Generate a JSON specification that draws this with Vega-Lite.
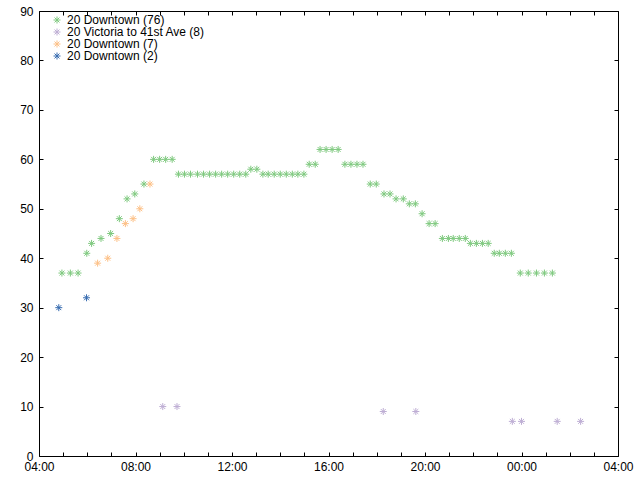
{
  "$schema": "https://vega.github.io/schema/vega-lite/v6.json",
  "width": 579,
  "height": 445,
  "autosize": "none",
  "padding": {"left": 39, "top": 11, "right": 22, "bottom": 24},
  "background": "white",
  "config": {
    "font": "Liberation Sans",
    "view": {"stroke": "black", "strokeWidth": 1},
    "axis": {"grid": false, "domain": false, "labelFontSize": 12, "labelColor": "black", "tickColor": "black", "labelFont": "Liberation Sans", "tickWidth": 1}
  },
  "data": {"values": [
    {"h": 4.95, "v": 37, "s": "20 Downtown (76)"},
    {"h": 5.3, "v": 37, "s": "20 Downtown (76)"},
    {"h": 5.62, "v": 37, "s": "20 Downtown (76)"},
    {"h": 5.98, "v": 41, "s": "20 Downtown (76)"},
    {"h": 6.18, "v": 43, "s": "20 Downtown (76)"},
    {"h": 6.57, "v": 44, "s": "20 Downtown (76)"},
    {"h": 6.97, "v": 45, "s": "20 Downtown (76)"},
    {"h": 7.33, "v": 48, "s": "20 Downtown (76)"},
    {"h": 7.65, "v": 52, "s": "20 Downtown (76)"},
    {"h": 7.97, "v": 53, "s": "20 Downtown (76)"},
    {"h": 8.35, "v": 55, "s": "20 Downtown (76)"},
    {"h": 8.75, "v": 60, "s": "20 Downtown (76)"},
    {"h": 9.0, "v": 60, "s": "20 Downtown (76)"},
    {"h": 9.25, "v": 60, "s": "20 Downtown (76)"},
    {"h": 9.52, "v": 60, "s": "20 Downtown (76)"},
    {"h": 9.78, "v": 57, "s": "20 Downtown (76)"},
    {"h": 10.03, "v": 57, "s": "20 Downtown (76)"},
    {"h": 10.28, "v": 57, "s": "20 Downtown (76)"},
    {"h": 10.57, "v": 57, "s": "20 Downtown (76)"},
    {"h": 10.82, "v": 57, "s": "20 Downtown (76)"},
    {"h": 11.07, "v": 57, "s": "20 Downtown (76)"},
    {"h": 11.32, "v": 57, "s": "20 Downtown (76)"},
    {"h": 11.57, "v": 57, "s": "20 Downtown (76)"},
    {"h": 11.82, "v": 57, "s": "20 Downtown (76)"},
    {"h": 12.07, "v": 57, "s": "20 Downtown (76)"},
    {"h": 12.32, "v": 57, "s": "20 Downtown (76)"},
    {"h": 12.57, "v": 57, "s": "20 Downtown (76)"},
    {"h": 12.78, "v": 58, "s": "20 Downtown (76)"},
    {"h": 13.03, "v": 58, "s": "20 Downtown (76)"},
    {"h": 13.28, "v": 57, "s": "20 Downtown (76)"},
    {"h": 13.5, "v": 57, "s": "20 Downtown (76)"},
    {"h": 13.75, "v": 57, "s": "20 Downtown (76)"},
    {"h": 14.0, "v": 57, "s": "20 Downtown (76)"},
    {"h": 14.25, "v": 57, "s": "20 Downtown (76)"},
    {"h": 14.5, "v": 57, "s": "20 Downtown (76)"},
    {"h": 14.73, "v": 57, "s": "20 Downtown (76)"},
    {"h": 14.98, "v": 57, "s": "20 Downtown (76)"},
    {"h": 15.2, "v": 59, "s": "20 Downtown (76)"},
    {"h": 15.45, "v": 59, "s": "20 Downtown (76)"},
    {"h": 15.65, "v": 62, "s": "20 Downtown (76)"},
    {"h": 15.9, "v": 62, "s": "20 Downtown (76)"},
    {"h": 16.15, "v": 62, "s": "20 Downtown (76)"},
    {"h": 16.4, "v": 62, "s": "20 Downtown (76)"},
    {"h": 16.68, "v": 59, "s": "20 Downtown (76)"},
    {"h": 16.93, "v": 59, "s": "20 Downtown (76)"},
    {"h": 17.18, "v": 59, "s": "20 Downtown (76)"},
    {"h": 17.43, "v": 59, "s": "20 Downtown (76)"},
    {"h": 17.73, "v": 55, "s": "20 Downtown (76)"},
    {"h": 17.98, "v": 55, "s": "20 Downtown (76)"},
    {"h": 18.3, "v": 53, "s": "20 Downtown (76)"},
    {"h": 18.55, "v": 53, "s": "20 Downtown (76)"},
    {"h": 18.8, "v": 52, "s": "20 Downtown (76)"},
    {"h": 19.1, "v": 52, "s": "20 Downtown (76)"},
    {"h": 19.35, "v": 51, "s": "20 Downtown (76)"},
    {"h": 19.6, "v": 51, "s": "20 Downtown (76)"},
    {"h": 19.88, "v": 49, "s": "20 Downtown (76)"},
    {"h": 20.17, "v": 47, "s": "20 Downtown (76)"},
    {"h": 20.42, "v": 47, "s": "20 Downtown (76)"},
    {"h": 20.72, "v": 44, "s": "20 Downtown (76)"},
    {"h": 20.97, "v": 44, "s": "20 Downtown (76)"},
    {"h": 21.17, "v": 44, "s": "20 Downtown (76)"},
    {"h": 21.42, "v": 44, "s": "20 Downtown (76)"},
    {"h": 21.67, "v": 44, "s": "20 Downtown (76)"},
    {"h": 21.88, "v": 43, "s": "20 Downtown (76)"},
    {"h": 22.13, "v": 43, "s": "20 Downtown (76)"},
    {"h": 22.38, "v": 43, "s": "20 Downtown (76)"},
    {"h": 22.62, "v": 43, "s": "20 Downtown (76)"},
    {"h": 22.87, "v": 41, "s": "20 Downtown (76)"},
    {"h": 23.08, "v": 41, "s": "20 Downtown (76)"},
    {"h": 23.33, "v": 41, "s": "20 Downtown (76)"},
    {"h": 23.58, "v": 41, "s": "20 Downtown (76)"},
    {"h": 23.95, "v": 37, "s": "20 Downtown (76)"},
    {"h": 24.28, "v": 37, "s": "20 Downtown (76)"},
    {"h": 24.62, "v": 37, "s": "20 Downtown (76)"},
    {"h": 24.95, "v": 37, "s": "20 Downtown (76)"},
    {"h": 25.28, "v": 37, "s": "20 Downtown (76)"},
    {"h": 9.13, "v": 10, "s": "20 Victoria to 41st Ave (8)"},
    {"h": 9.72, "v": 10, "s": "20 Victoria to 41st Ave (8)"},
    {"h": 18.27, "v": 9, "s": "20 Victoria to 41st Ave (8)"},
    {"h": 19.62, "v": 9, "s": "20 Victoria to 41st Ave (8)"},
    {"h": 23.62, "v": 7, "s": "20 Victoria to 41st Ave (8)"},
    {"h": 24.0, "v": 7, "s": "20 Victoria to 41st Ave (8)"},
    {"h": 25.48, "v": 7, "s": "20 Victoria to 41st Ave (8)"},
    {"h": 26.45, "v": 7, "s": "20 Victoria to 41st Ave (8)"},
    {"h": 6.43, "v": 39, "s": "20 Downtown (7)"},
    {"h": 6.85, "v": 40, "s": "20 Downtown (7)"},
    {"h": 7.23, "v": 44, "s": "20 Downtown (7)"},
    {"h": 7.58, "v": 47, "s": "20 Downtown (7)"},
    {"h": 7.9, "v": 48, "s": "20 Downtown (7)"},
    {"h": 8.18, "v": 50, "s": "20 Downtown (7)"},
    {"h": 8.6, "v": 55, "s": "20 Downtown (7)"},
    {"h": 4.82, "v": 30, "s": "20 Downtown (2)"},
    {"h": 5.97, "v": 32, "s": "20 Downtown (2)"}
  ]},
  "layer": [
    {
      "mark": {"type": "point", "shape": "M-1,0L1,0M0,-1L0,1M-0.7,-0.7L0.7,0.7M-0.7,0.7L0.7,-0.7", "filled": false, "size": 49, "strokeWidth": 1, "opacity": 1},
      "encoding": {
        "x": {"field": "h", "type": "quantitative",
          "scale": {"domain": [4, 28], "nice": false, "zero": false},
          "axis": {"orient": "bottom", "title": null,
            "values": [4, 5, 6, 7, 8, 9, 10, 11, 12, 13, 14, 15, 16, 17, 18, 19, 20, 21, 22, 23, 24, 25, 26, 27, 28],
            "labelExpr": "datum.value % 4 == 0 ? ((datum.value % 24 < 10 ? '0' : '') + (datum.value % 24) + ':00') : ''",
            "tickSize": 4, "offset": -4, "labelPadding": 5, "labelFlush": false, "labelOverlap": false}},
        "y": {"field": "v", "type": "quantitative",
          "scale": {"domain": [0, 90], "nice": false},
          "axis": {"orient": "left", "title": null, "values": [0, 10, 20, 30, 40, 50, 60, 70, 80, 90], "tickSize": 4, "offset": -4, "labelPadding": 6, "labelFlush": false}},
        "color": {"field": "s", "type": "nominal",
          "scale": {"domain": ["20 Downtown (76)", "20 Victoria to 41st Ave (8)", "20 Downtown (7)", "20 Downtown (2)"], "range": ["#7fc97f", "#beaed4", "#fdc086", "#386cb0"]},
          "legend": {"orient": "none", "legendX": 12, "legendY": 3, "title": null, "symbolType": "M-1,0L1,0M0,-1L0,1M-0.7,-0.7L0.7,0.7M-0.7,0.7L0.7,-0.7", "symbolSize": 49, "symbolStrokeWidth": 1, "labelFontSize": 12, "labelFont": "Liberation Sans", "labelColor": "black", "rowPadding": -1.7, "padding": 0, "labelOffset": 4}}
      }
    },
    {
      "mark": {"type": "point", "opacity": 0},
      "encoding": {
        "x": {"field": "h", "type": "quantitative",
          "scale": {"domain": [4, 28], "nice": false, "zero": false},
          "axis": {"orient": "top", "title": null, "labels": false,
            "values": [4, 5, 6, 7, 8, 9, 10, 11, 12, 13, 14, 15, 16, 17, 18, 19, 20, 21, 22, 23, 24, 25, 26, 27, 28],
            "tickSize": 4, "offset": -4}},
        "y": {"field": "v", "type": "quantitative",
          "scale": {"domain": [0, 90], "nice": false},
          "axis": {"orient": "right", "title": null, "labels": false, "values": [0, 10, 20, 30, 40, 50, 60, 70, 80, 90], "tickSize": 4, "offset": -4}}
      }
    }
  ],
  "resolve": {"axis": {"x": "independent", "y": "independent"}}
}
